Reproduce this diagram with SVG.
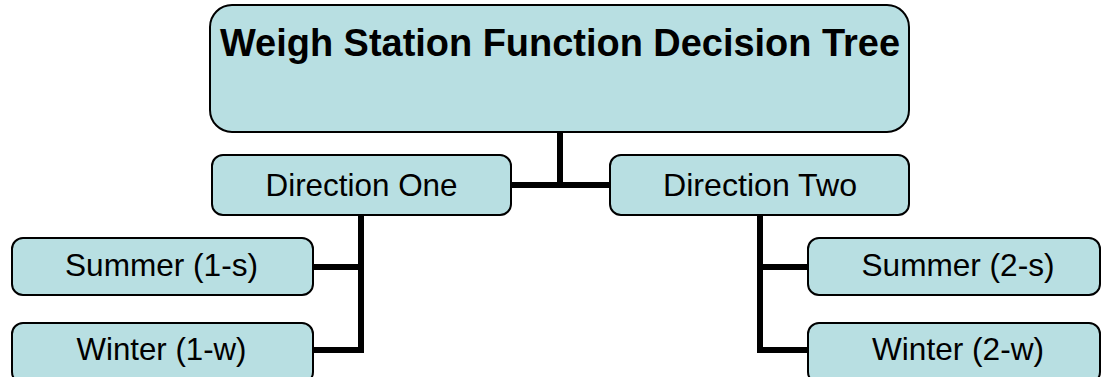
<svg xmlns="http://www.w3.org/2000/svg" width="1102" height="377" viewBox="0 0 1102 377">
<style>
.box{fill:#B8DFE2;stroke:#000;stroke-width:2}
.t{font-family:"Liberation Sans",Arial,sans-serif;font-size:32px;fill:#000;text-anchor:middle}
.title{font-family:"Liberation Sans",Arial,sans-serif;font-size:39px;font-weight:bold;fill:#000;text-anchor:middle}
.c{fill:none;stroke:#000;stroke-width:6}
</style>
<rect x="0" y="0" width="1102" height="377" fill="#fff"/>
<g id="connectors">
<path class="c" d="M560 132V185M511 185H610"/>
<path class="c" d="M361 215V350M313 267H364M313 350H364"/>
<path class="c" d="M760 215V350M757 267H808M757 350H808"/>
</g>
<g id="root">
<rect class="box" x="210" y="5" width="699" height="127" rx="22"/>
<text class="title" x="560" y="56" textLength="680" lengthAdjust="spacingAndGlyphs">Weigh Station Function Decision Tree</text>
</g>
<g id="dir1">
<rect class="box" x="212" y="155" width="299" height="60" rx="11"/>
<text class="t" x="361.5" y="196" textLength="192" lengthAdjust="spacingAndGlyphs">Direction One</text>
</g>
<g id="dir2">
<rect class="box" x="610" y="155" width="299" height="60" rx="11"/>
<text class="t" x="760" y="196" textLength="194" lengthAdjust="spacingAndGlyphs">Direction Two</text>
</g>
<g id="s1">
<rect class="box" x="12" y="238" width="301" height="57" rx="11"/>
<text class="t" x="161.5" y="276" textLength="193" lengthAdjust="spacingAndGlyphs">Summer (1-s)</text>
</g>
<g id="w1">
<rect class="box" x="12" y="323" width="301" height="60" rx="11"/>
<text class="t" x="161.5" y="360" textLength="170" lengthAdjust="spacingAndGlyphs">Winter (1-w)</text>
</g>
<g id="s2">
<rect class="box" x="808" y="238" width="292" height="57" rx="11"/>
<text class="t" x="958" y="276" textLength="193" lengthAdjust="spacingAndGlyphs">Summer (2-s)</text>
</g>
<g id="w2">
<rect class="box" x="808" y="323" width="292" height="60" rx="11"/>
<text class="t" x="958" y="360" textLength="172" lengthAdjust="spacingAndGlyphs">Winter (2-w)</text>
</g>
</svg>
